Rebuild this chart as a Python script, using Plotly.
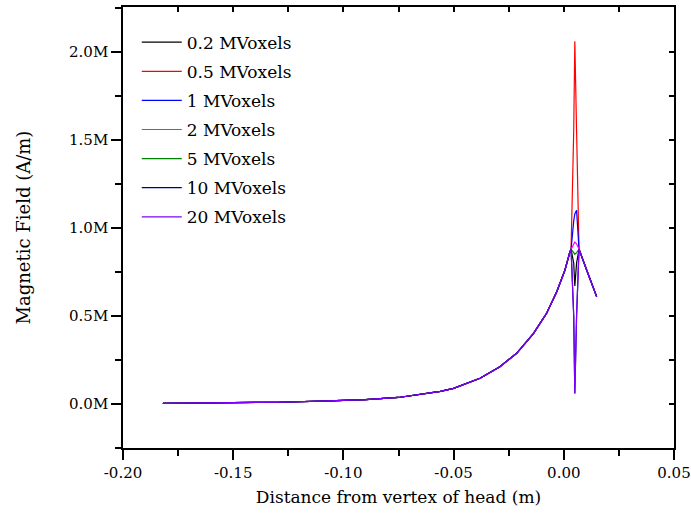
import plotly.graph_objects as go

# Shared smooth part of the curves (x in m, field in A/m)
base_x = [-0.1819, -0.165, -0.15, -0.13, -0.11, -0.09, -0.075, -0.065, -0.056, -0.05,
          -0.038, -0.029, -0.0214, -0.0138, -0.0078, -0.0032, 0.0005, 0.0028, 0.0033]
base_y = [0.004e6, 0.005e6, 0.006e6, 0.010e6, 0.016e6, 0.025e6, 0.037e6, 0.055e6, 0.072e6, 0.089e6,
          0.146e6, 0.212e6, 0.288e6, 0.400e6, 0.515e6, 0.638e6, 0.760e6, 0.865e6, 0.879e6]

# Tip region (per-series)
tip_x = [0.0045, 0.0050, 0.0058, 0.0069, 0.0110, 0.0149]
labels = ["0.2 MVoxels", "0.5 MVoxels", "1 MVoxels", "2 MVoxels", "5 MVoxels", "10 MVoxels", "20 MVoxels"]
colors = ["#000000", "#ff0000", "#0000ff", "#ff00ff", "#008000", "#000080", "#8000ff"]
tip_y = [
    [0.80e6, 0.67e6, 0.80e6, 0.879e6, 0.74e6, 0.61e6],
    [1.55e6, 2.06e6, 1.55e6, 0.879e6, 0.74e6, 0.61e6],
    [1.04e6, 1.08e6, 1.10e6, 0.879e6, 0.74e6, 0.61e6],
    [0.91e6, 0.92e6, 0.91e6, 0.879e6, 0.74e6, 0.61e6],
    [0.86e6, 0.85e6, 0.86e6, 0.879e6, 0.74e6, 0.61e6],
    [0.50e6, 0.06e6, 0.50e6, 0.879e6, 0.74e6, 0.61e6],
    [0.50e6, 0.06e6, 0.50e6, 0.879e6, 0.74e6, 0.61e6],
]

x_ticks = [-0.20, -0.15, -0.10, -0.05, 0.00, 0.05]
x_ticktext = ["-0.20", "-0.15", "-0.10", "-0.05", "0.00", "0.05"]
x_minor = [-0.175, -0.125, -0.075, -0.025, 0.025]
y_ticks = [0, 0.5e6, 1.0e6, 1.5e6, 2.0e6]
y_ticktext = ["0.0M", "0.5M", "1.0M", "1.5M", "2.0M"]
y_minor = [-0.25e6, 0.25e6, 0.75e6, 1.25e6, 1.75e6, 2.25e6]

xr = [-0.2, 0.05]
yr = [-0.25e6, 2.255e6]
FONT = "DejaVu Serif"

fig = go.Figure()
for i, lab in enumerate(labels):
    fig.add_trace(go.Scatter(
        x=base_x + tip_x, y=base_y + tip_y[i], mode="lines", name=lab,
        legendgroup=lab, line=dict(color=colors[i], width=1.2)))

# invisible trace for mirrored (inside) ticks on top/right
fig.add_trace(go.Scatter(x=[xr[0]], y=[yr[0]], xaxis="x2", yaxis="y2", mode="markers",
                         marker=dict(opacity=0), showlegend=False, hoverinfo="skip"))

axis_common = dict(showgrid=False, zeroline=False, showline=True, linecolor="black",
                   linewidth=1.5, tickcolor="black", tickwidth=1.5, automargin=False,
                   tickfont=dict(family=FONT, size=15, color="black"))

fig.update_layout(
    width=691, height=522,
    margin=dict(l=123, r=17, t=7, b=74),
    paper_bgcolor="white", plot_bgcolor="white",
    font=dict(family=FONT, color="black"),
    showlegend=True,
    legend=dict(x=0.025, y=0.96, xanchor="left", yanchor="top",
                font=dict(family=FONT, size=17, color="black"),
                bgcolor="rgba(0,0,0,0)", traceorder="grouped", tracegroupgap=4,
                itemwidth=40),
    xaxis=dict(range=xr, tickmode="array", tickvals=x_ticks, ticktext=x_ticktext,
               ticks="outside", ticklen=10, ticklabeloverflow="allow",
               minor=dict(tickvals=x_minor, ticks="outside", ticklen=6, tickcolor="black", tickwidth=1.5),
               title=dict(text="Distance from vertex of head (m)", font=dict(family=FONT, size=17), standoff=10),
               **axis_common),
    yaxis=dict(range=yr, tickmode="array", tickvals=y_ticks, ticktext=y_ticktext,
               ticks="outside", ticklen=10,
               minor=dict(tickvals=y_minor, ticks="outside", ticklen=6, tickcolor="black", tickwidth=1.5),
               title=dict(text="Magnetic Field (A/m)", font=dict(family=FONT, size=18), standoff=34),
               **axis_common),
    xaxis2=dict(range=xr, overlaying="x", side="top", tickmode="array", tickvals=x_ticks,
                showticklabels=False, ticks="inside", ticklen=5,
                minor=dict(tickvals=x_minor, ticks="inside", ticklen=5, tickcolor="black", tickwidth=1.5),
                **axis_common),
    yaxis2=dict(range=yr, overlaying="y", side="right", tickmode="array", tickvals=y_ticks,
                showticklabels=False, ticks="inside", ticklen=5,
                minor=dict(tickvals=y_minor, ticks="inside", ticklen=5, tickcolor="black", tickwidth=1.5),
                **axis_common),
)

fig.write_html("out.html")
